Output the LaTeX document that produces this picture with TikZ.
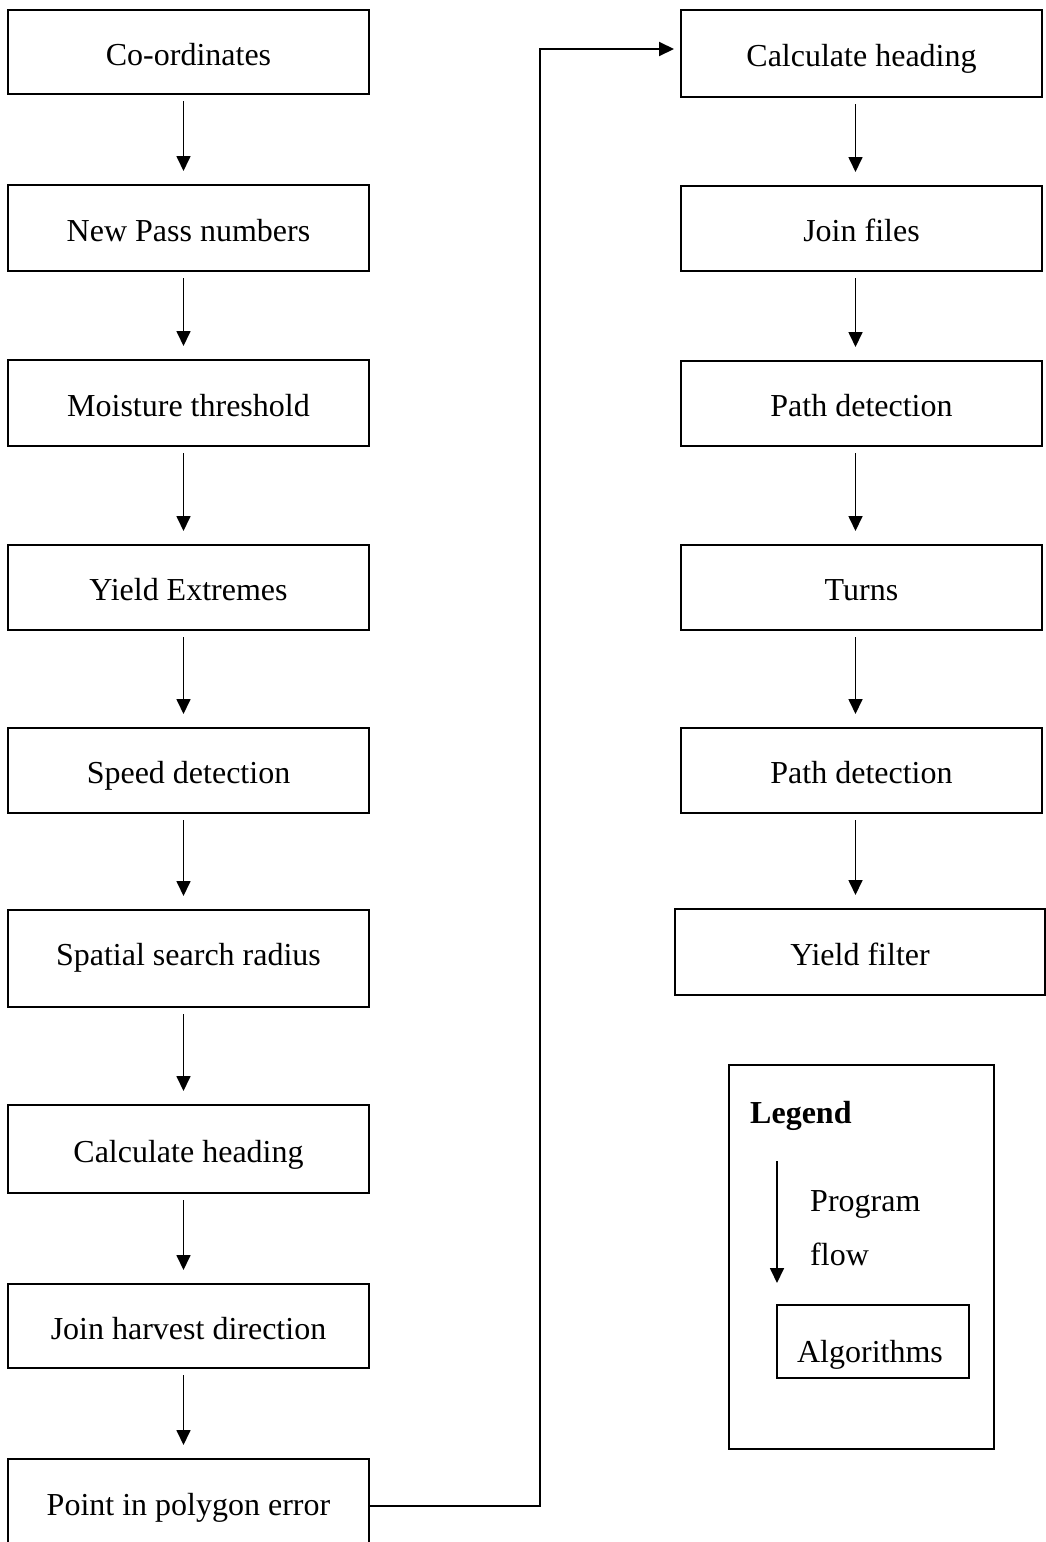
\documentclass[tikz,border=0pt]{standalone}
\usepackage{fontspec}
\setmainfont{Liberation Serif}
\usetikzlibrary{arrows.meta}
\begin{document}
\begin{tikzpicture}[x=1pt,y=-1pt,
  every node/.style={font=\fontsize{32}{38}\selectfont, inner sep=0pt},
  box/.style={draw=black, line width=2pt, minimum width=361pt, fill=white, text height=26pt, text depth=0pt},
  flow/.style={line width=1.7pt, -{Triangle[length=15pt,width=14pt]}},
  down/.style={flow, shorten <=6pt, shorten >=13pt}
]
\useasboundingbox (0,0) rectangle (1046,1542);
\fill[white] (0,0) rectangle (1046,1542);
% left column
\node[box, minimum height=84pt] (L1) at (188.5,52) {Co-ordinates};
\node[box, minimum height=86pt] (L2) at (188.5,228) {New Pass numbers};
\node[box, minimum height=86pt] (L3) at (188.5,403) {Moisture threshold};
\node[box, minimum height=85pt] (L4) at (188.5,587.5) {Yield Extremes};
\node[box, minimum height=85pt] (L5) at (188.5,770.5) {Speed detection};
\node[box, minimum height=97pt, text height=14pt] (L6) at (188.5,958.5) {Spatial search radius};
\node[box, minimum height=88pt] (L7) at (188.5,1149) {Calculate heading};
\node[box, minimum height=84pt] (L8) at (188.5,1326) {Join harvest direction};
\node[box, minimum height=87pt] (L9) at (188.5,1502.5) {Point in polygon error};
% right column
\node[box, minimum height=87pt] (R1) at (861.5,53.5) {Calculate heading};
\node[box, minimum height=85pt] (R2) at (861.5,228.5) {Join files};
\node[box, minimum height=85pt] (R3) at (861.5,403.5) {Path detection};
\node[box, minimum height=85pt] (R4) at (861.5,587.5) {Turns};
\node[box, minimum height=85pt] (R5) at (861.5,770.5) {Path detection};
\node[box, minimum height=86pt, minimum width=370pt] (R6) at (860,952) {Yield filter};
% arrows left
\foreach \a/\b in {L1/L2,L2/L3,L3/L4,L4/L5,L5/L6,L6/L7,L7/L8,L8/L9}
  \draw[down] ([xshift=-5pt]\a.south) -- ([xshift=-5pt]\b.north);
% arrows right
\foreach \a/\b in {R1/R2,R2/R3,R3/R4,R4/R5}
  \draw[down] ([xshift=-6pt]\a.south) -- ([xshift=-6pt]\b.north);
\draw[down] ([xshift=-6pt]R5.south) -- ([xshift=-4.5pt]R6.north);
% loop connector
\coordinate (bend) at (540,49);
\draw[flow, line width=2pt, shorten >=6pt] ([yshift=-3.5pt]L9.east) -| (bend) -- (bend -| R1.west);
% legend
\node[draw=black, line width=2pt, minimum width=265pt, minimum height=384pt] (leg) at (861.5,1257) {};
\node[anchor=base west, font=\fontsize{32}{38}\selectfont\bfseries] (legt) at (750,1123) {Legend};
\coordinate (la) at (777,1161);
\coordinate (lb) at (777,1283);
\draw[flow] (la) -- (lb);
\node[anchor=base west] (prog) at (810,1211) {Program};
\node[anchor=base west] (flw) at (810,1265) {flow};
\node[draw=black, line width=2pt, minimum width=192pt, minimum height=73pt] (alg) at (873,1341.5) {};
\node[anchor=base] (algt) at (870,1362) {Algorithms};
\end{tikzpicture}
\end{document}
